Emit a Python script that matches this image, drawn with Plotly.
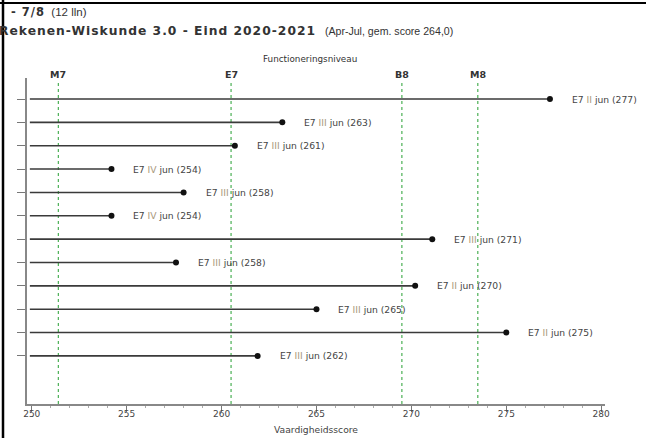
import plotly.graph_objects as go

# ---- data ----
scores = [277.3, 263.2, 260.7, 254.2, 258.0, 254.2, 271.1, 257.6, 270.2, 265.0, 275.0, 261.9]
niveaus = ["II", "III", "III", "IV", "III", "IV", "III", "III", "II", "III", "II", "III"]
groep = "E7"
maand = "jun"
ref_names = ["M7", "E7", "B8", "M8"]
ref_values = [251.4, 260.5, 269.5, 273.5]
x_ticks = [250, 255, 260, 265, 270, 275, 280]
base_score = 250

rows = list(range(1, len(scores) + 1))
FONT = "Liberation Sans, Arial, sans-serif"
WIDE = "DejaVu Sans, Verdana, sans-serif"

fig = go.Figure()

# stems
xs, ys = [], []
for r, v in zip(rows, scores):
    xs += [base_score - 0.1, v, None]
    ys += [r, r, None]
fig.add_trace(go.Scatter(x=xs, y=ys, mode="lines",
                         line=dict(color="#3a3a3a", width=1.6),
                         hoverinfo="skip", showlegend=False))
# dots
fig.add_trace(go.Scatter(x=scores, y=rows, mode="markers",
                         marker=dict(color="#111111", size=6),
                         showlegend=False))

# labels
for r, v, n in zip(rows, scores, niveaus):
    fig.add_annotation(x=v, y=r, xref="x", yref="y", xanchor="left", yanchor="middle",
                       xshift=20, showarrow=False,
                       text=f"{groep} <span style='color:#a8977a'>{n}</span> {maand} ({round(v)})",
                       font=dict(family=WIDE, size=9.2, color="#444444"))

# reference lines
for name, v in zip(ref_names, ref_values):
    fig.add_shape(type="line", x0=v, x1=v, xref="x", yref="paper", y0=0, y1=0.988,
                  line=dict(color="#3aa845", width=1.1, dash="dot"), layer="below")
    fig.add_annotation(x=v, y=1, xref="x", yref="paper", yanchor="bottom", yshift=-4,
                       showarrow=False, text=f"<b>{name}</b>",
                       font=dict(family=WIDE, size=9.5, color="#333333"))

fig.add_annotation(x=0.49, y=1, xref="paper", yref="paper", yanchor="bottom", yshift=12,
                   showarrow=False, text="Functioneringsniveau",
                   font=dict(family=WIDE, size=8.8, color="#333333"))

# titles
fig.add_annotation(x=-27 / 578 + 9 / 578, y=1, xref="paper", yref="paper", xanchor="left",
                   yanchor="middle", yshift=78 - 12, showarrow=False,
                   text="<span style='font-family:DejaVu Sans;letter-spacing:1px'><b>- 7/8</b></span>  (12 lln)",
                   font=dict(family=FONT, size=11.5, color="#333333"))
fig.add_annotation(x=-27 / 578 - 3 / 578, y=1, xref="paper", yref="paper", xanchor="left",
                   yanchor="middle", yshift=78 - 31, showarrow=False,
                   text="<span style='font-family:DejaVu Sans;font-size:12.3px;letter-spacing:1px'>"
                        "<b>Rekenen-Wiskunde 3.0 - Eind 2020-2021</b></span>"
                        "   (Apr-Jul, gem. score 264,0)",
                   font=dict(family=FONT, size=10.6, color="#333333"))

# x-axis title
fig.add_annotation(x=0.5, y=0, xref="paper", yref="paper", yanchor="middle", yshift=-25,
                   showarrow=False, text="Vaardigheidsscore",
                   font=dict(family=WIDE, size=9.2, color="#444444"))

# frame lines (black border at left and top)
fig.add_shape(type="line", xref="paper", yref="paper",
              x0=-24 / 578, x1=-24 / 578, y0=-34 / 326, y1=1 + 78 / 326,
              line=dict(color="black", width=2.5))
fig.add_shape(type="line", xref="paper", yref="paper",
              x0=-27 / 578, x1=1 + 41 / 578, y0=1 + 75 / 326, y1=1 + 75 / 326,
              line=dict(color="black", width=2))

fig.update_xaxes(range=[249.75, 280.2], tickvals=x_ticks, ticks="outside", ticklen=6,
                 tickcolor="#777777", tickwidth=1.2, ticklabelstandoff=-6,
                 minor=dict(dtick=1, ticks="outside", ticklen=2, tickcolor="#aaaaaa"),
                 showline=True, linecolor="#888888", linewidth=1.5, showgrid=False,
                 zeroline=False, automargin=False,
                 tickfont=dict(family=WIDE, size=9, color="#444444"))
fig.update_yaxes(range=[14.06, 0.10], tickvals=rows, ticktext=[""] * len(rows),
                 ticks="outside", ticklen=8, tickcolor="#777777", tickwidth=1.2,
                 showline=True, linecolor="#888888", linewidth=1.5, showgrid=False,
                 zeroline=False, automargin=False)

fig.update_layout(width=646, height=438, margin=dict(l=27, r=41, t=78, b=34),
                  plot_bgcolor="white", paper_bgcolor="white",
                  font=dict(family=FONT), showlegend=False)

fig.write_html("out.html", config={"displayModeBar": False},
               post_script="document.body.style.margin='0px';document.body.style.overflow='hidden';")
